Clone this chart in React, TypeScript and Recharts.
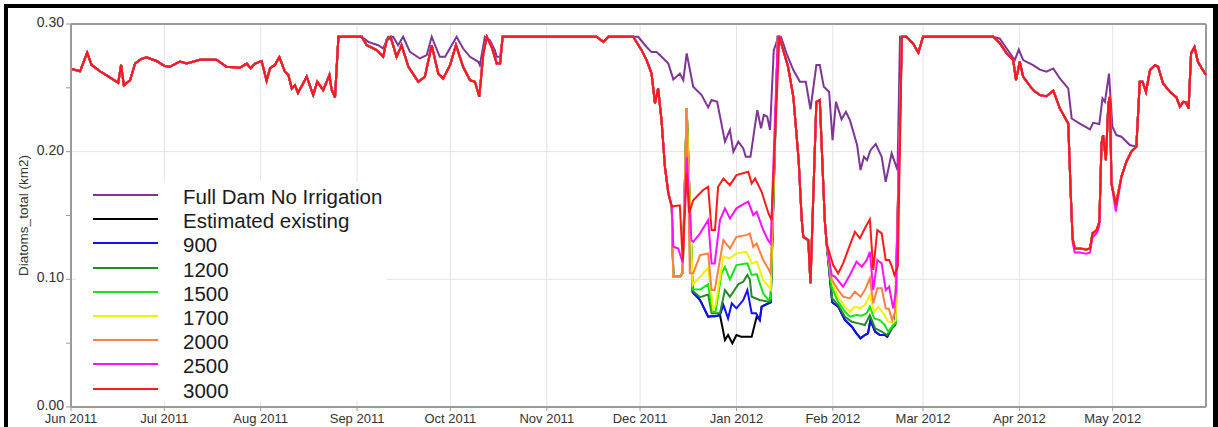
import { LineChart, Line, XAxis, YAxis, CartesianGrid, ReferenceLine } from 'recharts';

// Points are [day since 1 Jun 2011, area km2].
type Pt = [number, number];

const monthTicks = [0, 30, 61, 92, 122, 153, 183, 214, 245, 274, 305, 335];
const monthLabels = ['Jun 2011', 'Jul 2011', 'Aug 2011', 'Sep 2011', 'Oct 2011', 'Nov 2011',
  'Dec 2011', 'Jan 2012', 'Feb 2012', 'Mar 2012', 'Apr 2012', 'May 2012'];
const yTicks = [0, 0.05, 0.1, 0.15, 0.2, 0.25, 0.3];

// 3000 ML scenario: every scenario follows it outside the low-flow windows below
const s3000: Pt[] = [
  [0, 0.265], [2.9, 0.263], [5.2, 0.2775], [6.6, 0.268], [9.3, 0.263], [12, 0.259], [15.2, 0.254],
  [16.1, 0.268], [17, 0.252], [19, 0.256], [20.6, 0.269], [22.5, 0.2725], [24.3, 0.274], [27.5, 0.271],
  [30.2, 0.267], [31.8, 0.2665], [35, 0.2705], [37.2, 0.269], [41.5, 0.272], [46.8, 0.272], [50, 0.2665],
  [54.3, 0.2657], [56.5, 0.269], [57.8, 0.2654], [59.2, 0.269], [61.3, 0.271], [62.9, 0.2555], [64, 0.2654],
  [65.6, 0.268], [67, 0.274], [68.8, 0.2626], [69.9, 0.26], [71, 0.2495], [72, 0.252], [73, 0.246],
  [75.8, 0.2587], [77.9, 0.2443], [79.2, 0.2547], [81.1, 0.2482], [83.1, 0.26], [83.8, 0.2488], [84.9, 0.2425],
  [86, 0.29], [93.5, 0.29], [95.1, 0.2834], [98.3, 0.2795], [100.4, 0.2743], [101.5, 0.2873], [102.8, 0.2897],
  [104.7, 0.2743], [106.3, 0.2834], [108.5, 0.2665], [111.7, 0.2547], [113.8, 0.2587], [116, 0.2834],
  [118.1, 0.2612], [119.7, 0.2573], [121.9, 0.2678], [123.8, 0.2834], [126.1, 0.2665], [128.3, 0.256],
  [129.9, 0.2547], [131.3, 0.243], [132.6, 0.277], [133.7, 0.29], [135.3, 0.282], [136.9, 0.269], [138, 0.269],
  [138.8, 0.29], [169, 0.29], [171.2, 0.286], [172.8, 0.29], [180.8, 0.29], [183.5, 0.2795], [185.1, 0.2717],
  [186.7, 0.2612], [187.8, 0.2378], [188.8, 0.2495], [189.9, 0.2247], [191, 0.188], [192.1, 0.1673],
  [193.2, 0.157], [195.8, 0.158], [196.7, 0.115], [198, 0.183], [198.8, 0.152], [200.1, 0.162], [203.3, 0.17],
  [204.9, 0.1725], [206, 0.1386], [207.1, 0.1386], [208.1, 0.1725], [209.8, 0.179], [211.9, 0.1738],
  [214, 0.1816], [217.8, 0.1842], [218.9, 0.1751], [220, 0.179], [222.1, 0.1686], [224.3, 0.1516],
  [225.3, 0.1464], [227.8, 0.29], [230.6, 0.2665], [232.3, 0.243], [234, 0.1934], [235, 0.1464],
  [235.5, 0.1333], [237.1, 0.1307], [237.8, 0.097], [239.7, 0.239], [240.8, 0.2404], [242.4, 0.1464],
  [243, 0.1281], [244.6, 0.1151], [245.1, 0.1112], [246.7, 0.1047], [248.3, 0.1125], [249.9, 0.123],
  [252.1, 0.1373], [253.7, 0.1321], [255.3, 0.14], [256.9, 0.147], [258, 0.1073], [259.3, 0.1386],
  [260.7, 0.136], [262, 0.1151], [263.1, 0.1151], [263.8, 0.1112], [264.8, 0.1034], [265.9, 0.11],
  [267.2, 0.29], [268.7, 0.29], [270.8, 0.2847], [272.5, 0.2775], [274, 0.29], [296.6, 0.29], [298.7, 0.285],
  [300.9, 0.277], [303, 0.2717], [303.9, 0.256], [305.1, 0.2704], [306.2, 0.2587], [309.4, 0.2482],
  [311.6, 0.2443], [313.7, 0.2434], [315.9, 0.2477], [318, 0.2339], [320.7, 0.222], [321.5, 0.1673],
  [322.1, 0.1321], [322.8, 0.1242], [324.4, 0.1242], [326.5, 0.1234], [327.7, 0.1242], [328.5, 0.136],
  [329.8, 0.1386], [330.7, 0.1451], [331.4, 0.2065], [331.9, 0.213], [332.8, 0.1934], [333.6, 0.2378],
  [334.1, 0.243], [334.6, 0.1751], [336, 0.1582], [337.8, 0.1803], [339.4, 0.1921], [341, 0.2],
  [342.6, 0.2039], [343.7, 0.2547], [344.6, 0.2547], [345.7, 0.2469], [347, 0.2639], [348.6, 0.2678],
  [349.6, 0.2665], [351.2, 0.2534], [353.4, 0.2469], [355.5, 0.2425], [356.6, 0.2352], [357.7, 0.239],
  [358.6, 0.2385], [359.4, 0.2339], [360.2, 0.277], [361.3, 0.282], [362.4, 0.2704], [364.3, 0.2626],
  [365, 0.26],
];

// Full Dam No Irrigation, where it leaves the irrigated runs
const fullDamSepOct: Pt[] = [
  [93.5, 0.29], [95.6, 0.286], [98.8, 0.2834], [100.4, 0.2808], [102, 0.29], [103.6, 0.29], [105.2, 0.2834],
  [106.8, 0.29], [109, 0.2782], [112.2, 0.273], [114.4, 0.2756], [116, 0.29], [118.6, 0.2743], [120.3, 0.2743],
  [124, 0.29], [126.1, 0.2808], [128.3, 0.2743], [131, 0.2704], [131.5, 0.2678], [133.1, 0.29],
  [134.7, 0.2873], [136.3, 0.2795], [136.9, 0.2743], [138, 0.2743], [138.8, 0.29],
];
const fullDamDecFeb: Pt[] = [
  [180.8, 0.29], [182.4, 0.29], [185.1, 0.282], [186.7, 0.278], [188.3, 0.278], [190.5, 0.273], [192.1, 0.269],
  [193.7, 0.2566], [195.8, 0.2612], [196.9, 0.256], [198, 0.277], [200.1, 0.2508], [202.8, 0.2443],
  [204.9, 0.2347], [206, 0.2404], [207.8, 0.239], [210.3, 0.2078], [211.9, 0.217], [213, 0.2],
  [214.6, 0.2078], [216.2, 0.2026], [217, 0.196], [218.5, 0.196], [220.7, 0.2326], [221.9, 0.2183],
  [222.8, 0.2287], [223.9, 0.2274], [224.8, 0.217], [226, 0.2795], [227.5, 0.29], [228.3, 0.29],
  [230.1, 0.277], [232.3, 0.2639], [234.4, 0.2547], [236.3, 0.2547], [237.8, 0.2331], [239.7, 0.2678],
  [240.8, 0.2678], [242.1, 0.2508], [243.8, 0.2469], [244.9, 0.209], [246, 0.239], [247.8, 0.2253],
  [249.2, 0.2312], [250.5, 0.2247], [252.8, 0.2052], [253.9, 0.1856], [255, 0.196], [256, 0.1934],
  [257.1, 0.2012], [258.8, 0.206], [260.7, 0.196], [262, 0.1764], [263.9, 0.1987], [265.8, 0.1856],
  [266.6, 0.29],
];
const fullDamAprMay: Pt[] = [
  [296.6, 0.29], [298.7, 0.2885], [300.9, 0.2808], [303.5, 0.2717], [304.8, 0.28], [306.2, 0.2717],
  [309.4, 0.2678], [311.6, 0.2643], [313.7, 0.2626], [315.9, 0.2652], [318, 0.2573], [320.7, 0.2495],
  [321.8, 0.226], [324.4, 0.222], [327.7, 0.2174], [328.7, 0.2226], [330.7, 0.2216], [331.7, 0.2417],
  [332.5, 0.239], [333.8, 0.2612], [334.9, 0.2195], [336.2, 0.213], [337.8, 0.2117], [340.5, 0.2052],
  [342.6, 0.2039], [343.7, 0.2547],
];

// Dec 2011 - Jan 2012 window
const existingDec: Pt[] = [
  [193.2, 0.157], [193.7, 0.102], [195.8, 0.102], [196.7, 0.105], [198, 0.234], [199.9, 0.09], [202.3, 0.0838],
  [203.6, 0.0773], [204.9, 0.0707], [206, 0.071], [207, 0.071], [208.7, 0.072], [210.3, 0.0525],
  [211.3, 0.0564], [212.7, 0.0499], [214, 0.0564], [215.5, 0.055], [218.9, 0.055], [220.5, 0.0707],
  [221.5, 0.0681], [222.1, 0.0786], [224.3, 0.0812], [225, 0.082], [227.3, 0.29], [227.8, 0.29],
];
const s900Dec: Pt[] = [
  [193.2, 0.157], [193.7, 0.102], [195.8, 0.102], [196.7, 0.105], [198, 0.234], [199.9, 0.09], [202.3, 0.0838],
  [203.6, 0.0773], [204.9, 0.0707], [206, 0.071], [207, 0.071], [208.7, 0.072], [209.8, 0.08], [211.3, 0.0694],
  [212.5, 0.0812], [214, 0.0773], [216.2, 0.0838], [217.5, 0.0916], [218.9, 0.0734], [220.3, 0.0734],
  [221.5, 0.0681], [222.1, 0.0786], [224.3, 0.0812], [225, 0.082], [227.3, 0.29], [227.8, 0.29],
];
const s1200Dec: Pt[] = [
  [193.2, 0.157], [193.7, 0.102], [195.8, 0.102], [196.7, 0.105], [198, 0.234], [199.9, 0.091], [202.3, 0.086],
  [204.9, 0.088], [206, 0.0734], [207.5, 0.0734], [208.7, 0.0734], [210.3, 0.0916], [211.9, 0.0864],
  [213, 0.0903], [214.6, 0.0962], [216.2, 0.0981], [217.5, 0.1034], [218.3, 0.1], [218.9, 0.0864],
  [221.5, 0.0838], [224.3, 0.0825], [225, 0.083], [227.3, 0.29], [227.8, 0.29],
];
const s1500Dec: Pt[] = [
  [193.2, 0.157], [193.7, 0.102], [195.8, 0.102], [196.7, 0.105], [198, 0.234], [199.9, 0.092], [202.3, 0.092],
  [204.9, 0.096], [206.3, 0.0746], [207.3, 0.0746], [209.2, 0.1047], [210.3, 0.1098], [211.9, 0.1],
  [214, 0.1112], [217.5, 0.1125], [218.9, 0.1034], [220.5, 0.104], [222.6, 0.089], [224.3, 0.0838],
  [225, 0.085], [227.3, 0.29], [227.8, 0.29],
];
const s1700Dec: Pt[] = [
  [193.2, 0.157], [193.7, 0.102], [195.8, 0.102], [196.7, 0.105], [198, 0.234], [199.9, 0.0955], [202.3, 0.102],
  [204.9, 0.109], [206.5, 0.077], [207.3, 0.08], [209.8, 0.1177], [211.9, 0.1164], [214, 0.1203],
  [217.2, 0.1216], [219, 0.1125], [220.5, 0.114], [222.6, 0.0994], [224.3, 0.0942], [225, 0.092],
  [227.3, 0.29], [227.8, 0.29],
];
const s2000Dec: Pt[] = [
  [193.2, 0.157], [193.7, 0.102], [195.8, 0.102], [196.7, 0.105], [198, 0.234], [199, 0.1047], [200.1, 0.1047],
  [202.3, 0.119], [204.9, 0.1203], [206, 0.0916], [207, 0.0916], [209.8, 0.1307], [211.9, 0.1242],
  [214, 0.1333], [217.2, 0.1346], [218.3, 0.136], [219.4, 0.1255], [220.5, 0.128], [222.6, 0.1151],
  [224.3, 0.108], [225, 0.1047], [227.3, 0.29], [227.8, 0.29],
];
const s2500Dec: Pt[] = [
  [193.2, 0.157], [193.7, 0.1255], [195.3, 0.1242], [196.7, 0.113], [198, 0.196], [199.5, 0.1307],
  [200.1, 0.1294], [202.3, 0.136], [204.9, 0.1464], [206, 0.1125], [207, 0.1125], [208.7, 0.1464],
  [210.3, 0.1556], [211.9, 0.1477], [214, 0.1556], [216.7, 0.1595], [217.8, 0.1608], [219.4, 0.1503],
  [220.5, 0.1529], [222.6, 0.1386], [224.3, 0.13], [225, 0.1281], [227.3, 0.29], [227.8, 0.29],
];

// Feb 2012 window
const s900Feb: Pt[] = [
  [243, 0.1281], [244.8, 0.082], [246.7, 0.0786], [248.9, 0.0681], [251.1, 0.0629], [252.6, 0.0577],
  [253.9, 0.0538], [255.3, 0.0564], [256.3, 0.0577], [257.1, 0.0681], [258.6, 0.059], [260.1, 0.0564],
  [261.7, 0.0564], [262.5, 0.055], [263.9, 0.0616], [265, 0.0642], [267.2, 0.29],
];
const s1200Feb: Pt[] = [
  [243, 0.1281], [244.8, 0.085], [246.7, 0.0799], [248.9, 0.0707], [251.1, 0.0668], [253.2, 0.0655],
  [255.3, 0.0642], [256.9, 0.072], [258.6, 0.0616], [260.7, 0.059], [262.5, 0.0564], [264.4, 0.0629],
  [265.2, 0.065], [267.2, 0.29],
];
const s1500Feb: Pt[] = [
  [243, 0.1281], [244.6, 0.0942], [246.7, 0.0825], [248.9, 0.0746], [250.5, 0.0707], [252.6, 0.072],
  [254.2, 0.0715], [255.9, 0.0734], [256.9, 0.0786], [258.3, 0.0694], [260.1, 0.0681], [261.7, 0.0642],
  [262.8, 0.059], [264.4, 0.0642], [265.2, 0.066], [267.2, 0.29],
];
const s1700Feb: Pt[] = [
  [243, 0.1281], [244.6, 0.0994], [246.7, 0.0864], [248.9, 0.0786], [250.5, 0.0746], [252.1, 0.0786],
  [253.7, 0.0773], [255.3, 0.0799], [256.9, 0.0877], [258.3, 0.0746], [259.6, 0.0786], [261.2, 0.0734],
  [262.8, 0.0668], [264.4, 0.066], [265.2, 0.068], [267.2, 0.29],
];
const s2000Feb: Pt[] = [
  [243, 0.1281], [244.6, 0.1], [246.7, 0.0916], [248.3, 0.0864], [250.5, 0.0851], [252.1, 0.0903],
  [253.9, 0.0864], [255.3, 0.0916], [256.9, 0.1008], [258, 0.0812], [259.3, 0.093], [260.7, 0.093],
  [262, 0.0773], [263, 0.0768], [264.1, 0.0681], [265, 0.0746], [267.2, 0.29],
];
const s2500Feb: Pt[] = [
  [243, 0.1281], [244.6, 0.1034], [245.7, 0.102], [248.3, 0.0942], [250.5, 0.1034], [252.6, 0.1138],
  [254.3, 0.1098], [255.9, 0.1151], [256.9, 0.1216], [258, 0.0916], [259.3, 0.1151], [260.7, 0.1125],
  [262, 0.0916], [263.1, 0.0942], [264.4, 0.0773], [265.3, 0.09], [267.2, 0.29],
];
// 2500 sits just under 3000 at the bottom of the April dip
const s2500Apr: Pt[] = [
  [321.5, 0.1673], [322.1, 0.129], [322.8, 0.121], [324.4, 0.121], [326.5, 0.12], [327.7, 0.121],
  [328.5, 0.133], [329.8, 0.136], [330.7, 0.142], [331.4, 0.2065], [331.9, 0.213], [332.8, 0.1934],
  [333.6, 0.2378], [334.1, 0.243], [334.6, 0.1751], [336, 0.153], [337.8, 0.1803],
];

// swap the points of a base run for the ones given over each window
function splice(base: Pt[], ...parts: Pt[][]): Pt[] {
  let out = base;
  for (const p of parts) {
    const a = p[0][0];
    const b = p[p.length - 1][0];
    out = [...out.filter(([d]) => d < a), ...p, ...out.filter(([d]) => d > b)];
  }
  return out;
}

const series = [
  { key: 'fullDam', name: 'Full Dam No Irrigation', color: '#7e3596', pts: splice(s3000, fullDamSepOct, fullDamDecFeb, fullDamAprMay) },
  { key: 'existing', name: 'Estimated existing', color: '#000000', pts: splice(s3000, existingDec, s900Feb) },
  { key: 's900', name: '900', color: '#1010ff', pts: splice(s3000, s900Dec, s900Feb) },
  { key: 's1200', name: '1200', color: '#238b23', pts: splice(s3000, s1200Dec, s1200Feb) },
  { key: 's1500', name: '1500', color: '#14e614', pts: splice(s3000, s1500Dec, s1500Feb) },
  { key: 's1700', name: '1700', color: '#f2f200', pts: splice(s3000, s1700Dec, s1700Feb) },
  { key: 's2000', name: '2000', color: '#ff7f45', pts: splice(s3000, s2000Dec, s2000Feb) },
  { key: 's2500', name: '2500', color: '#ff10ff', pts: splice(s3000, s2500Dec, s2500Feb, s2500Apr) },
  { key: 's3000', name: '3000', color: '#ff1a1a', pts: s3000 },
];

// one row per day that any run has a point on
const table = (() => {
  const days = Array.from(new Set(series.flatMap(s => s.pts.map(p => p[0])))).sort((a, b) => a - b);
  const maps = series.map(s => new Map(s.pts.map(([d, v]) => [d, v])));
  return days.map(day => {
    const row: Record<string, number> = { day };
    series.forEach((s, i) => {
      const v = maps[i].get(day);
      if (v !== undefined) row[s.key] = v;
    });
    return row;
  });
})();

const FONT = '"Liberation Sans", Arial, sans-serif';

function YLabel(props: any) {
  const { viewBox } = props;
  const cx = 23;
  const cy = viewBox.y + viewBox.height / 2;
  return (
    <text x={cx} y={cy} transform={`rotate(-90 ${cx} ${cy})`} textAnchor="middle"
      dominantBaseline="central" fontSize={13.5} fill="#333" fontFamily={FONT}>
      Diatoms_total (km2)
    </text>
  );
}

export default function App() {
  return (
    <div style={{ position: 'absolute', left: 0, top: 0, width: 1218, height: 427, overflow: 'hidden', background: '#fff' }}>
      <LineChart width={1218} height={427} data={table}
        margin={{ top: 24, right: 12, bottom: 0, left: 0 }} style={{ fontFamily: FONT }}>
        <CartesianGrid stroke="#e4e4e4" strokeWidth={1} horizontalValues={[0.1, 0.2]} />
        <XAxis dataKey="day" type="number" domain={[0, 365]} ticks={monthTicks} height={20}
          tickFormatter={(v: number) => monthLabels[monthTicks.indexOf(v)] ?? ''}
          tick={{ fontSize: 13, fill: '#333' }} tickSize={4} tickMargin={3}
          axisLine={{ stroke: '#999', strokeWidth: 2 }} tickLine={{ stroke: '#999' }} />
        <YAxis type="number" domain={[0, 0.3]} ticks={yTicks} width={71} allowDataOverflow
          tickFormatter={(v: number) => (Math.round(v * 100) % 10 === 0 ? v.toFixed(2) : '')}
          tick={{ fontSize: 14, fill: '#333', dy: -2 }} tickSize={5} tickMargin={2}
          axisLine={{ stroke: '#999', strokeWidth: 2 }} tickLine={{ stroke: '#999' }}
          label={<YLabel />} />
        <ReferenceLine y={0.3} stroke="#999" strokeWidth={2} />
        <ReferenceLine x={365} stroke="#999" strokeWidth={2} />
        {series.map(s => (
          <Line key={s.key} dataKey={s.key} name={s.name} type="linear" stroke={s.color}
            strokeWidth={2} dot={false} activeDot={false} connectNulls isAnimationActive={false} />
        ))}
      </LineChart>

      {/* legend box sits inside the plot and hides the grid under it */}
      <div style={{ position: 'absolute', left: 76, top: 181, width: 311, height: 220, background: '#fff' }} />
      {series.map((s, i) => {
        const y = 195 + i * 24.2;
        return (
          <div key={s.key}>
            <div style={{ position: 'absolute', left: 93, top: y - 1, width: 65, height: 2, background: s.color }} />
            <div style={{ position: 'absolute', left: 183, top: y - 11, height: 26, lineHeight: '26px',
              fontSize: 20.5, fontFamily: FONT, color: '#1a1a1a', whiteSpace: 'nowrap' }}>
              {s.name}
            </div>
          </div>
        );
      })}

      {/* outer black frame, cut off at the bottom */}
      <div style={{ position: 'absolute', left: 4, top: 4, width: 1214, height: 440, boxSizing: 'border-box',
        borderStyle: 'solid', borderColor: '#000', borderWidth: '4px 5px 0 4px', pointerEvents: 'none' }} />
    </div>
  );
}
